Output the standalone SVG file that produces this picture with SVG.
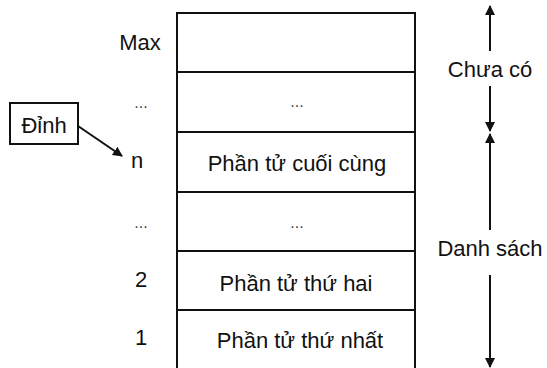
<svg xmlns="http://www.w3.org/2000/svg" width="547" height="368" viewBox="0 0 547 368">
  <style>
    text { font-family: "Liberation Sans", Arial, sans-serif; fill: #111; }
    .lbl { font-size: 22px; text-anchor: middle; }
    .cell { font-size: 22px; text-anchor: middle; }
    .dots { font-size: 16px; text-anchor: middle; fill: #444; }
    .box { fill: #fff; stroke: #111; stroke-width: 2; }
    .conn { stroke: #111; stroke-width: 2; fill: none; }
  </style>
  <defs>
    <marker id="head" viewBox="0 0 10 10" refX="9" refY="5" markerWidth="5" markerHeight="5" orient="auto-start-reverse">
      <path d="M0,0 L10,5 L0,10 z" fill="#111"/>
    </marker>
  </defs>
  <rect width="547" height="368" fill="#fff"/>

  <!-- stack cells, top (Max) to bottom (1) -->
  <g id="cell-max">
    <rect class="box" x="177" y="13" width="238" height="59"/>
    <text class="lbl" x="140" y="50">Max</text>
  </g>
  <g id="cell-gap-upper">
    <rect class="box" x="177" y="72" width="238" height="60"/>
    <text class="dots" x="297" y="107">...</text>
    <text class="dots" x="141" y="108">...</text>
  </g>
  <g id="cell-n">
    <rect class="box" x="177" y="132" width="238" height="60"/>
    <text class="cell" x="297" y="171">Phần tử cuối cùng</text>
    <text class="lbl" x="137" y="168">n</text>
  </g>
  <g id="cell-gap-lower">
    <rect class="box" x="177" y="192" width="238" height="59"/>
    <text class="dots" x="297" y="228">...</text>
    <text class="dots" x="141" y="228">...</text>
  </g>
  <g id="cell-2">
    <rect class="box" x="177" y="251" width="238" height="59"/>
    <text class="cell" x="296" y="291">Phần tử thứ hai</text>
    <text class="lbl" x="141" y="287">2</text>
  </g>
  <g id="cell-1">
    <rect class="box" x="177" y="310" width="238" height="60"/>
    <text class="cell" x="300" y="348">Phần tử thứ nhất</text>
    <text class="lbl" x="141" y="345">1</text>
  </g>

  <!-- top pointer -->
  <g id="dinh">
    <rect class="box" x="10" y="103" width="68" height="41"/>
    <text class="lbl" x="44" y="133">Đỉnh</text>
  </g>

  <!-- range labels -->
  <g id="chua-co">
    <text class="lbl" x="490" y="77">Chưa có</text>
  </g>
  <g id="danh-sach">
    <text class="lbl" x="490" y="256">Danh sách</text>
  </g>

  <g id="connectors">
    <line class="conn" x1="78" y1="126" x2="122" y2="156" marker-end="url(#head)"/>
    <line class="conn" x1="490" y1="51" x2="490" y2="6" marker-end="url(#head)"/>
    <line class="conn" x1="490" y1="86" x2="490" y2="131" marker-end="url(#head)"/>
    <line class="conn" x1="490" y1="230" x2="490" y2="134" marker-end="url(#head)"/>
    <line class="conn" x1="490" y1="275" x2="490" y2="367" marker-end="url(#head)"/>
  </g>
</svg>
